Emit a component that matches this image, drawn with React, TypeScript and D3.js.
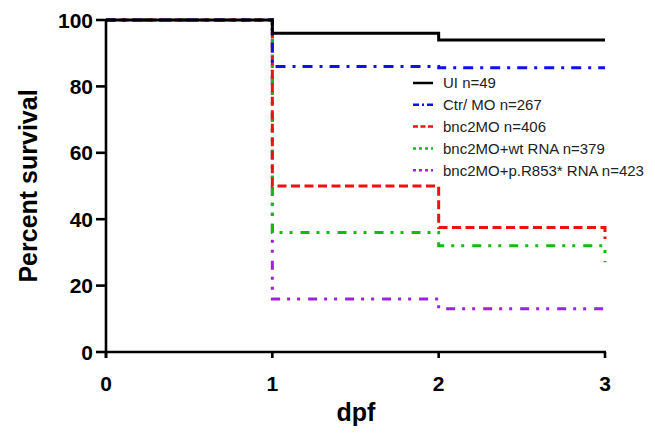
import React from "react";
import * as d3 from "d3";

const days = [0, 1, 2, 3];
const uiValues = [100, 96, 94, 94];
const ctrlValues = [100, 86, 85.6, 85.6];
const mo406Values = [100, 50, 37.5, 34];
const wtValues = [100, 36, 32, 27];
const r853Values = [100, 16, 13, 13];
const seriesNames = [
  "UI n=49",
  "Ctr/ MO n=267",
  "bnc2MO n=406",
  "bnc2MO+wt RNA n=379",
  "bnc2MO+p.R853* RNA n=423",
];
const xTicks = [0, 1, 2, 3];
const yTicks = [0, 20, 40, 60, 80, 100];

const W = 655;
const H = 439;
const FONT = "'Liberation Sans', Arial, Helvetica, sans-serif";

export default function App() {
  const x = d3.scaleLinear().domain([0, 3]).range([106, 605]);
  const y = d3.scaleLinear().domain([0, 100]).range([352, 20]);

  const series = [
    { name: seriesNames[0], values: uiValues, color: "#000000", dash: null, legDash: null, width: 3 },
    { name: seriesNames[1], values: ctrlValues, color: "#1010ee", dash: "10 7 3 7", legDash: "6 3 2 3", width: 3 },
    { name: seriesNames[2], values: mo406Values, color: "#ee1111", dash: "9 4.5", legDash: "5 2.5", width: 3 },
    { name: seriesNames[3], values: wtValues, color: "#11bb11", dash: "9 7 3 7 3 8", legDash: "3 3", width: 3 },
    { name: seriesNames[4], values: r853Values, color: "#a020e0", dash: "9 7 3 7 3 8", legDash: "3 3", width: 3 },
  ];

  const line = d3
    .line<[number, number]>()
    .x((d) => x(d[0]))
    .y((d) => y(d[1]))
    .curve(d3.curveStepAfter);

  const drawOrder = [4, 3, 2, 1, 0];

  return (
    <svg width={W} height={H} style={{ position: "absolute", left: 0, top: 0, background: "#fff" }}>
      <rect x={0} y={0} width={W} height={H} fill="#fff" />
      {drawOrder.map((i) => {
        const s = series[i];
        const pts = days.map((d, k) => [d, s.values[k]] as [number, number]);
        return (
          <path
            key={s.name}
            d={line(pts) || ""}
            fill="none"
            stroke={s.color}
            strokeWidth={s.width}
            strokeDasharray={s.dash || undefined}
          />
        );
      })}

      {/* axes */}
      <g stroke="#000" strokeWidth={2.6} fill="none">
        <line x1={x(0)} x2={x(0)} y1={y(100) - 1} y2={y(0) + 6} />
        <line x1={x(0) - 1} x2={x(3) + 1} y1={y(0)} y2={y(0)} />
        {yTicks.map((t) => (
          <line key={"yt" + t} x1={x(0) - 10} x2={x(0)} y1={y(t)} y2={y(t)} />
        ))}
        {xTicks.map((t) => (
          <line key={"xt" + t} x1={x(t)} x2={x(t)} y1={y(0)} y2={y(0) + 6} />
        ))}
      </g>
      <g fontFamily={FONT} fontWeight="bold" fontSize={21} fill="#000">
        {yTicks.map((t) => (
          <text key={"yl" + t} x={x(0) - 13} y={y(t)} dy="0.36em" textAnchor="end">
            {t}
          </text>
        ))}
        {xTicks.map((t) => (
          <text key={"xl" + t} x={x(t)} y={y(0) + 31} dy="0.36em" textAnchor="middle">
            {t}
          </text>
        ))}
      </g>
      <text
        fontFamily={FONT}
        fontWeight="bold"
        fontSize={25}
        textAnchor="middle"
        transform={`translate(37,186) rotate(-90)`}
      >
        Percent survival
      </text>
      <text fontFamily={FONT} fontWeight="bold" fontSize={25} x={356} y={412} dy="0.36em" textAnchor="middle">
        dpf
      </text>

      {/* legend */}
      <g fontFamily={FONT} fontSize={15} fill="#222">
        {series.map((s, i) => {
          const ly = 83 + i * 21.8;
          return (
            <g key={"lg" + i}>
              <line
                x1={413}
                x2={433}
                y1={ly}
                y2={ly}
                stroke={s.color}
                strokeWidth={2.5}
                strokeDasharray={s.legDash || undefined}
              />
              <text x={443} y={ly} dy="0.36em">
                {s.name}
              </text>
            </g>
          );
        })}
      </g>
    </svg>
  );
}
